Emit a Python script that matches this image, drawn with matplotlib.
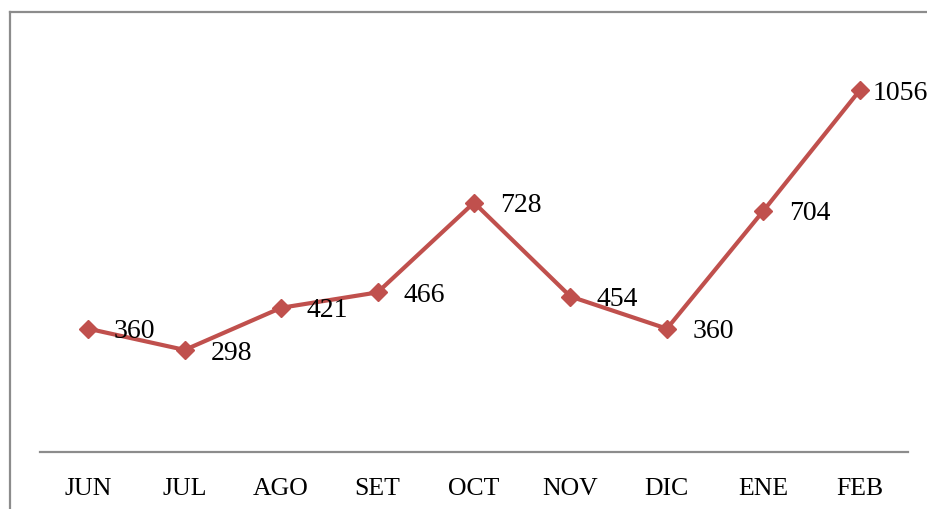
import matplotlib
matplotlib.use("Agg")
import matplotlib.pyplot as plt
from matplotlib.lines import Line2D

months = ["JUN", "JUL", "AGO", "SET", "OCT", "NOV", "DIC", "ENE", "FEB"]
values = [360, 298, 421, 466, 728, 454, 360, 704, 1056]

RED = "#c0504d"
GRID = "#8c8c8c"

plt.rcParams["font.family"] = ["Liberation Serif", "DejaVu Serif"]

fig = plt.figure(figsize=(9.28, 5.10), dpi=100)
ax = fig.add_axes([40 / 928, 57 / 510, 868 / 928, 411 / 510])

x = list(range(len(months)))
ax.plot(x, values, color=RED, lw=3, marker="D", markersize=9,
        markerfacecolor=RED, markeredgecolor=RED, zorder=3, clip_on=False)

for i, v in enumerate(values):
    dx = 9 if i == len(values) - 1 else 18.5
    ax.annotate(f"{v}", (i, v), textcoords="offset points", xytext=(dx, -1.5),
                ha="left", va="center", fontsize=20, color="black",
                annotation_clip=False)

ax.set_xlim(-0.5, len(months) - 0.5)
ax.set_ylim(0, 1200)
ax.set_xticks(x)
ax.set_xticklabels(months, fontsize=18.5)
ax.tick_params(axis="x", length=0, pad=18)
ax.set_yticks([])
for s in ("top", "right", "left"):
    ax.spines[s].set_visible(False)
ax.spines["bottom"].set_color(GRID)
ax.spines["bottom"].set_linewidth(1.6)

# chart frame (top and left edges visible, rest cropped)
fig.add_artist(Line2D([10 / 928, 10 / 928], [0, 1 - 13 / 510],
                      transform=fig.transFigure, color=GRID, lw=1.6))
fig.add_artist(Line2D([10 / 928, 1], [1 - 13 / 510, 1 - 13 / 510],
                      transform=fig.transFigure, color=GRID, lw=1.6))

fig.savefig("out.png", dpi=100)
